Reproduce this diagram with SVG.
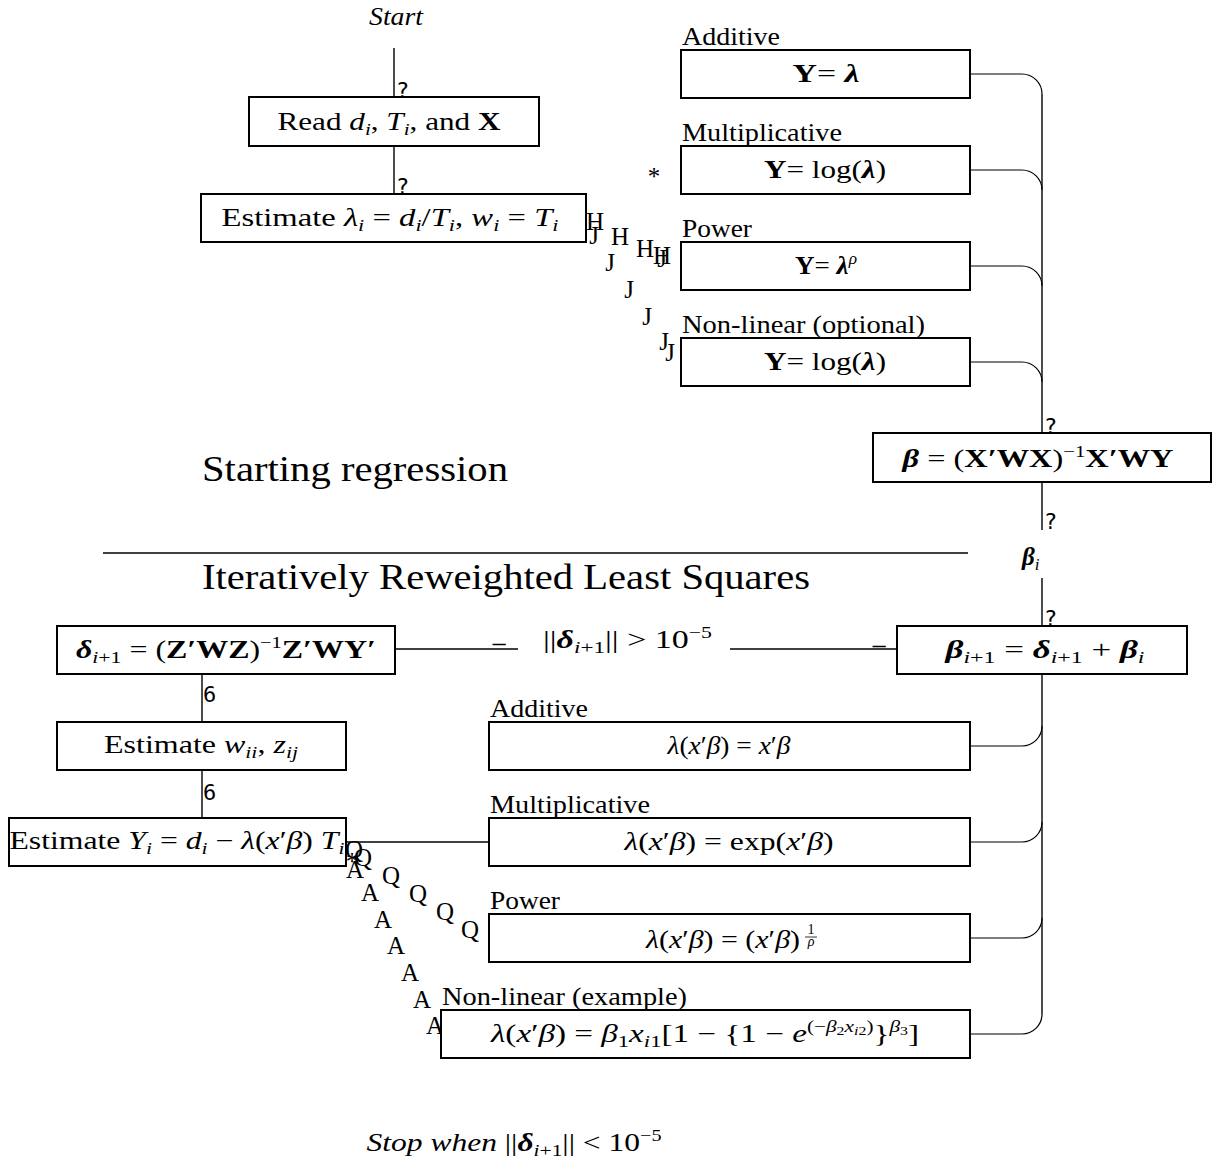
<svg xmlns="http://www.w3.org/2000/svg" width="1216" height="1163" viewBox="0 0 1216 1163">
<style>
.t{font-family:"Liberation Serif",serif;font-size:25px;fill:#000}
.h{font-family:"Liberation Serif",serif;font-size:36px;fill:#000}
.it{font-style:italic}
.b{font-weight:bold}
.bi{font-weight:bold;font-style:italic}
.g{font-family:"DejaVu Sans Mono",monospace;font-size:22px;fill:#000}
.tt{font-family:"Liberation Serif",serif;font-size:25px;fill:#000;text-anchor:middle}
.fr{font-family:"Liberation Serif",serif;font-size:14px;fill:#000;text-anchor:middle}
.box{fill:#fff;stroke:#000;stroke-width:2}
.ln{fill:none;stroke:#000;stroke-width:1.4}
.cv{fill:none;stroke:#000;stroke-width:1.2}
</style>
<rect width="1216" height="1163" fill="#fff"/>
<g id="connectors">
<path class="ln" d="M394,48 V97"/>
<path class="ln" d="M394,146 V194"/>
<path class="cv" d="M970,74 H1022 A20,20 0 0 1 1042,94"/>
<path class="cv" d="M970,170 H1022 A20,20 0 0 1 1042,190"/>
<path class="cv" d="M970,266 H1022 A20,20 0 0 1 1042,286"/>
<path class="cv" d="M970,362 H1022 A20,20 0 0 1 1042,382"/>
<path class="ln" d="M1042,94 V433"/>
<path class="ln" d="M1042,482 V530"/>
<path class="ln" d="M1042,578 V626"/>
<path class="ln" d="M1042,674 V1014"/>
<path class="cv" d="M970,746 H1022 A20,20 0 0 0 1042,726"/>
<path class="cv" d="M970,842 H1022 A20,20 0 0 0 1042,822"/>
<path class="cv" d="M970,938 H1022 A20,20 0 0 0 1042,918"/>
<path class="cv" d="M970,1034 H1022 A20,20 0 0 0 1042,1014"/>
<path class="ln" d="M395,649 H518"/>
<path class="ln" d="M730,649 H897"/>
<path class="ln" d="M202,674 V722"/>
<path class="ln" d="M202,770 V818"/>
<path class="ln" d="M346,842 H489"/>
<text class="g" x="396" y="98">?</text>
<text class="g" x="396" y="194">?</text>
<text class="g" x="1044" y="434">?</text>
<text class="g" x="1044" y="529">?</text>
<text class="g" x="1044" y="626">?</text>
<text class="g" x="499" y="650" text-anchor="middle">–</text>
<text class="g" x="879" y="652" text-anchor="middle">–</text>
<text class="g" x="203" y="702">6</text>
<text class="g" x="203" y="800">6</text>
<text class="tt" x="654" y="185">*</text>
<text class="tt" x="595" y="230">H</text>
<text class="tt" x="594" y="244">J</text>
<text class="tt" x="620" y="245">H</text>
<text class="tt" x="610" y="271">J</text>
<text class="tt" x="645" y="257">H</text>
<text class="tt" x="662" y="264">H</text>
<text class="tt" x="662" y="267">J</text>
<text class="tt" x="629" y="298">J</text>
<text class="tt" x="647" y="325">J</text>
<text class="tt" x="664" y="350">J</text>
<text class="tt" x="670" y="361">J</text>
<text class="tt" x="354" y="858">Q</text>
<text class="tt" x="363" y="866">Q</text>
<text class="tt" x="391" y="884">Q</text>
<text class="tt" x="418" y="902">Q</text>
<text class="tt" x="445" y="920">Q</text>
<text class="tt" x="470" y="938">Q</text>
<text class="tt" x="352" y="870">*</text>
<text class="tt" x="355" y="878">A</text>
<text class="tt" x="370" y="901">A</text>
<text class="tt" x="383" y="928">A</text>
<text class="tt" x="396" y="954">A</text>
<text class="tt" x="410" y="981">A</text>
<text class="tt" x="422" y="1008">A</text>
<text class="tt" x="435" y="1034">A</text>
</g>
<g id="start">
<text class="t it" x="396" y="25" text-anchor="middle" textLength="54" lengthAdjust="spacingAndGlyphs">Start</text>
</g>
<g id="read">
<rect class="box" x="249" y="97" width="290" height="49"/>
<text class="t" x="389" y="130" text-anchor="middle" textLength="223" lengthAdjust="spacingAndGlyphs">Read <tspan class="it">d</tspan><tspan class="it" font-size="17" dy="5">i</tspan><tspan dy="-5">, </tspan><tspan class="it">T</tspan><tspan class="it" font-size="17" dy="5">i</tspan><tspan dy="-5">, and </tspan><tspan class="b">X</tspan></text>
</g>
<g id="estimate-lambda">
<rect class="box" x="201" y="194" width="385" height="48"/>
<text class="t" x="390" y="226" text-anchor="middle" textLength="337" lengthAdjust="spacingAndGlyphs">Estimate <tspan class="it">λ</tspan><tspan class="it" font-size="17" dy="5">i</tspan><tspan dy="-5"> = </tspan><tspan class="it">d</tspan><tspan class="it" font-size="17" dy="5">i</tspan><tspan dy="-5">/</tspan><tspan class="it">T</tspan><tspan class="it" font-size="17" dy="5">i</tspan><tspan dy="-5">, </tspan><tspan class="it">w</tspan><tspan class="it" font-size="17" dy="5">i</tspan><tspan dy="-5"> = </tspan><tspan class="it">T</tspan><tspan class="it" font-size="17" dy="5">i</tspan></text>
</g>
<g id="y-additive">
<text class="t" x="682" y="45" textLength="98" lengthAdjust="spacingAndGlyphs">Additive</text>
<rect class="box" x="681" y="50" width="289" height="48"/>
<text class="t" x="826" y="82" text-anchor="middle" textLength="67" lengthAdjust="spacingAndGlyphs"><tspan class="b">Y</tspan>= <tspan class="bi">λ</tspan></text>
</g>
<g id="y-multiplicative">
<text class="t" x="682" y="141" textLength="160" lengthAdjust="spacingAndGlyphs">Multiplicative</text>
<rect class="box" x="681" y="146" width="289" height="48"/>
<text class="t" x="825" y="178" text-anchor="middle" textLength="122" lengthAdjust="spacingAndGlyphs"><tspan class="b">Y</tspan>= log(<tspan class="bi">λ</tspan>)</text>
</g>
<g id="y-power">
<text class="t" x="682" y="237" textLength="70" lengthAdjust="spacingAndGlyphs">Power</text>
<rect class="box" x="681" y="242" width="289" height="48"/>
<text class="t" x="826" y="274" text-anchor="middle" textLength="62" lengthAdjust="spacingAndGlyphs"><tspan class="b">Y</tspan>= <tspan class="bi">λ</tspan><tspan class="it" font-size="16" dy="-10">ρ</tspan></text>
</g>
<g id="y-nonlinear">
<text class="t" x="682" y="333" textLength="243" lengthAdjust="spacingAndGlyphs">Non-linear (optional)</text>
<rect class="box" x="681" y="338" width="289" height="48"/>
<text class="t" x="825" y="370" text-anchor="middle" textLength="122" lengthAdjust="spacingAndGlyphs"><tspan class="b">Y</tspan>= log(<tspan class="bi">λ</tspan>)</text>
</g>
<g id="beta">
<rect class="box" x="873" y="433" width="338" height="49"/>
<text class="t" x="1038" y="467" text-anchor="middle" textLength="271" lengthAdjust="spacingAndGlyphs"><tspan class="bi">β</tspan> = (<tspan class="b">X′WX</tspan>)<tspan font-size="16" dy="-10">−1</tspan><tspan class="b" dy="10">X′WY</tspan></text>
</g>
<g id="beta-i">
<text class="t" x="1022" y="565"><tspan class="bi">β</tspan><tspan class="it" font-size="17" dy="5">i</tspan></text>
</g>
<g id="headings">
<text class="h" x="202" y="481" textLength="306" lengthAdjust="spacingAndGlyphs">Starting regression</text>
<path class="ln" d="M103,553 H968"/>
<text class="h" x="202" y="589" textLength="608" lengthAdjust="spacingAndGlyphs">Iteratively Reweighted Least Squares</text>
</g>
<g id="condition">
<text class="t" x="543" y="648" textLength="169" lengthAdjust="spacingAndGlyphs">||<tspan class="bi">δ</tspan><tspan class="it" font-size="17" dy="5">i</tspan><tspan font-size="17">+1</tspan><tspan dy="-5">|| &gt; 10</tspan><tspan font-size="16" dy="-10">−5</tspan></text>
</g>
<g id="beta-update">
<rect class="box" x="897" y="626" width="290" height="48"/>
<text class="t" x="1045" y="658" text-anchor="middle" textLength="199" lengthAdjust="spacingAndGlyphs"><tspan class="bi">β</tspan><tspan class="it" font-size="17" dy="5">i</tspan><tspan font-size="17">+1</tspan><tspan dy="-5"> = </tspan><tspan class="bi">δ</tspan><tspan class="it" font-size="17" dy="5">i</tspan><tspan font-size="17">+1</tspan><tspan dy="-5"> + </tspan><tspan class="bi">β</tspan><tspan class="it" font-size="17" dy="5">i</tspan></text>
</g>
<g id="delta">
<rect class="box" x="57" y="626" width="338" height="48"/>
<text class="t" x="226" y="658" text-anchor="middle" textLength="300" lengthAdjust="spacingAndGlyphs"><tspan class="bi">δ</tspan><tspan class="it" font-size="17" dy="5">i</tspan><tspan font-size="17">+1</tspan><tspan dy="-5"> = (</tspan><tspan class="b">Z′WZ</tspan>)<tspan font-size="16" dy="-10">−1</tspan><tspan class="b" dy="10">Z′WY′</tspan></text>
</g>
<g id="estimate-wz">
<rect class="box" x="57" y="722" width="289" height="48"/>
<text class="t" x="201" y="753" text-anchor="middle" textLength="194" lengthAdjust="spacingAndGlyphs">Estimate <tspan class="it">w</tspan><tspan class="it" font-size="17" dy="5">ii</tspan><tspan dy="-5">, </tspan><tspan class="it">z</tspan><tspan class="it" font-size="17" dy="5">ij</tspan></text>
</g>
<g id="estimate-y">
<rect class="box" x="9" y="818" width="337" height="48"/>
<text class="t" x="177" y="849" text-anchor="middle" textLength="335" lengthAdjust="spacingAndGlyphs">Estimate <tspan class="it">Y</tspan><tspan class="it" font-size="17" dy="5">i</tspan><tspan dy="-5"> = </tspan><tspan class="it">d</tspan><tspan class="it" font-size="17" dy="5">i</tspan><tspan dy="-5"> − </tspan><tspan class="it">λ</tspan>(<tspan class="it">x</tspan>′<tspan class="it">β</tspan>) <tspan class="it">T</tspan><tspan class="it" font-size="17" dy="5">i</tspan></text>
</g>
<g id="l-additive">
<text class="t" x="490" y="717" textLength="98" lengthAdjust="spacingAndGlyphs">Additive</text>
<rect class="box" x="489" y="722" width="481" height="48"/>
<text class="t" x="729" y="754" text-anchor="middle" textLength="123" lengthAdjust="spacingAndGlyphs"><tspan class="it">λ</tspan>(<tspan class="it">x</tspan>′<tspan class="it">β</tspan>) = <tspan class="it">x</tspan>′<tspan class="it">β</tspan></text>
</g>
<g id="l-multiplicative">
<text class="t" x="490" y="813" textLength="160" lengthAdjust="spacingAndGlyphs">Multiplicative</text>
<rect class="box" x="489" y="818" width="481" height="48"/>
<text class="t" x="729" y="850" text-anchor="middle" textLength="209" lengthAdjust="spacingAndGlyphs"><tspan class="it">λ</tspan>(<tspan class="it">x</tspan>′<tspan class="it">β</tspan>) = exp(<tspan class="it">x</tspan>′<tspan class="it">β</tspan>)</text>
</g>
<g id="l-power">
<text class="t" x="490" y="909" textLength="70" lengthAdjust="spacingAndGlyphs">Power</text>
<rect class="box" x="489" y="914" width="481" height="48"/>
<text class="t" x="646" y="948" textLength="154" lengthAdjust="spacingAndGlyphs"><tspan class="it">λ</tspan>(<tspan class="it">x</tspan>′<tspan class="it">β</tspan>) = (<tspan class="it">x</tspan>′<tspan class="it">β</tspan>)</text>
<text class="fr" x="811" y="934">1</text>
<path d="M805,937 H817" stroke="#000" stroke-width="0.8"/>
<text class="fr it" x="811" y="946">ρ</text>
</g>
<g id="l-nonlinear">
<text class="t" x="442" y="1005" textLength="245" lengthAdjust="spacingAndGlyphs">Non-linear (example)</text>
<rect class="box" x="441" y="1010" width="529" height="48"/>
<text class="t" x="705" y="1042" text-anchor="middle" textLength="428" lengthAdjust="spacingAndGlyphs"><tspan class="it">λ</tspan>(<tspan class="it">x</tspan>′<tspan class="it">β</tspan>) = <tspan class="it">β</tspan><tspan font-size="17" dy="5">1</tspan><tspan class="it" dy="-5">x</tspan><tspan class="it" font-size="17" dy="5">i</tspan><tspan font-size="17">1</tspan><tspan dy="-5">[1 − {1 − </tspan><tspan class="it">e</tspan><tspan font-size="16" dy="-10">(−</tspan><tspan class="it" font-size="16">β</tspan><tspan font-size="12" dy="3">2</tspan><tspan class="it" font-size="16" dy="-3">x</tspan><tspan class="it" font-size="12" dy="3">i</tspan><tspan font-size="12">2</tspan><tspan font-size="16" dy="-3">)</tspan><tspan dy="10">}</tspan><tspan class="it" font-size="16" dy="-10">β</tspan><tspan font-size="12" dy="3">3</tspan><tspan dy="7">]</tspan></text>
</g>
<g id="stop">
<text class="t" x="514" y="1151" text-anchor="middle" textLength="295" lengthAdjust="spacingAndGlyphs"><tspan class="it">Stop when </tspan>||<tspan class="bi">δ</tspan><tspan class="it" font-size="17" dy="5">i</tspan><tspan font-size="17">+1</tspan><tspan dy="-5">|| &lt; 10</tspan><tspan font-size="16" dy="-10">−5</tspan></text>
</g>
</svg>
